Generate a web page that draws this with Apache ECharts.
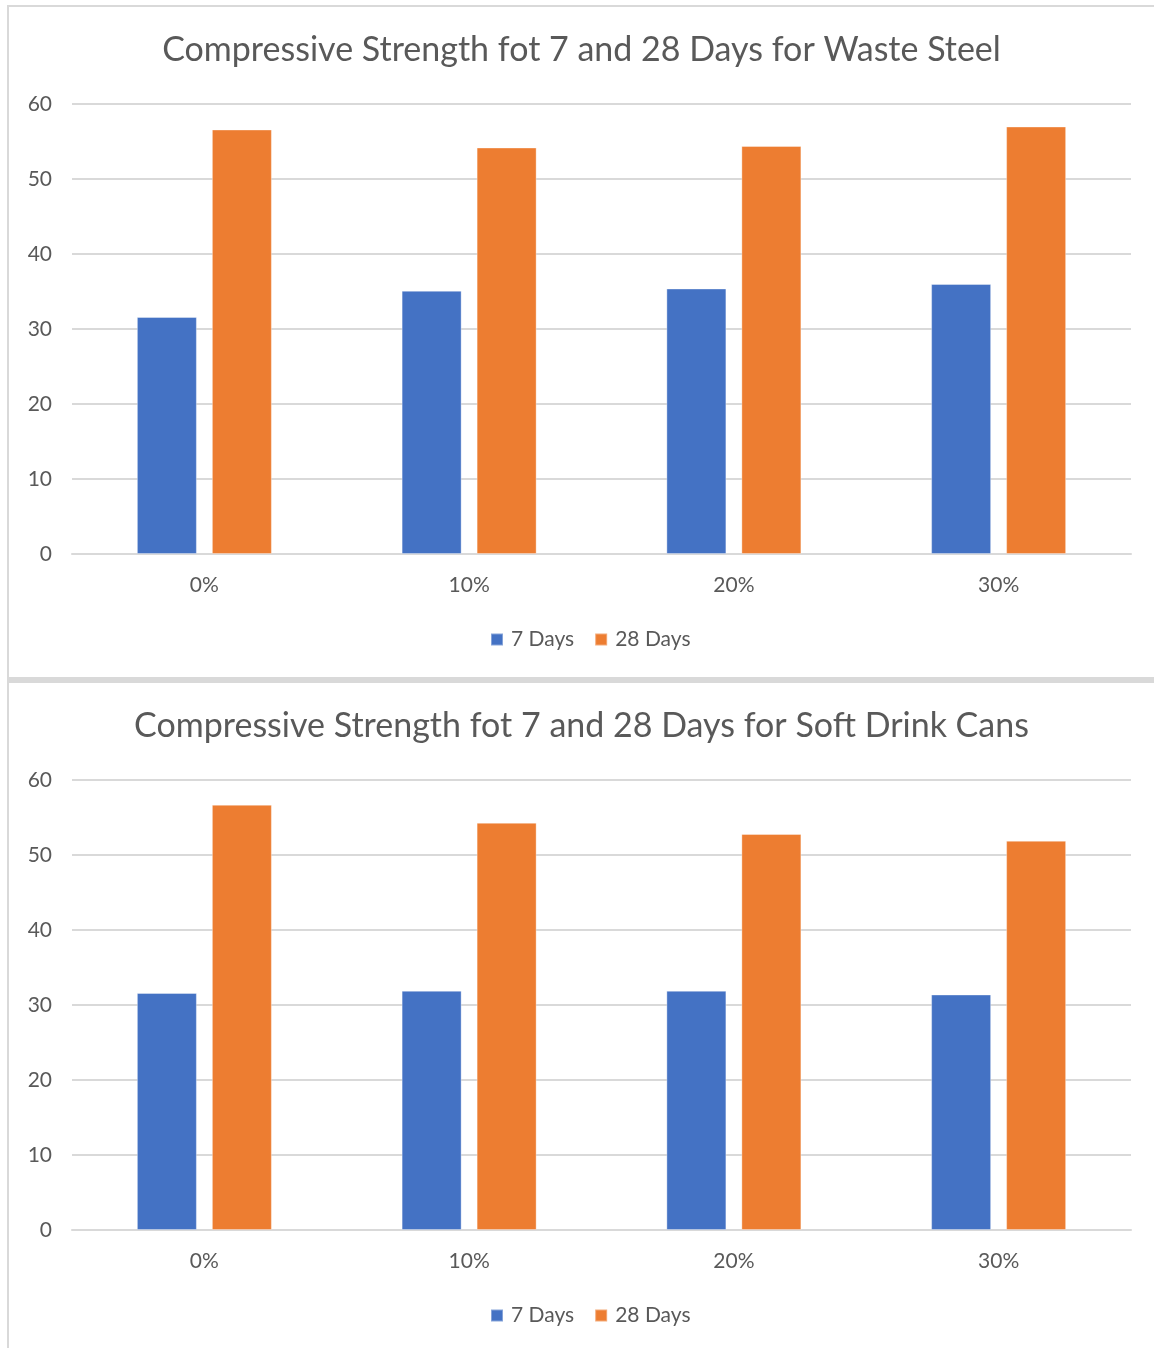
<!DOCTYPE html>
<html>
<head>
<meta charset="utf-8">
<script src="https://cdn.jsdelivr.net/npm/echarts@6/dist/echarts.min.js"></script>
<style>
  html, body { margin: 0; padding: 0; background: #fff; }
  body { width: 1154px; height: 1348px; position: relative; overflow: hidden; }
  .rule { position: absolute; background: #d9d9d9; }
  .chart { position: absolute; background: #fff; }
</style>
</head>
<body>
<div class="rule" style="left:7px;top:5px;width:1147px;height:2px;"></div>
<div class="rule" style="left:7px;top:5px;width:2px;height:1343px;"></div>
<div class="rule" style="left:7px;top:677px;width:1147px;height:6px;"></div>
<div id="steel" class="chart" style="left:9px;top:7px;width:1145px;height:670px;"></div>
<div id="cans" class="chart" style="left:9px;top:683px;width:1145px;height:665px;"></div>
<script>
// Replacement percentages on the x axis
const categories = ['0%', '10%', '20%', '30%'];
const seriesNames = ['7 Days', '28 Days'];

// Compressive strength (MPa), waste steel mixes
const steel7 = [31.6, 35.1, 35.4, 36.0];
const steel28 = [56.6, 54.2, 54.4, 57.0];

// Compressive strength (MPa), soft drink can mixes
const cans7 = [31.6, 31.9, 31.9, 31.4];
const cans28 = [56.7, 54.3, 52.8, 51.9];

const titles = [
  'Compressive Strength fot 7 and 28 Days for Waste Steel',
  'Compressive Strength fot 7 and 28 Days for Soft Drink Cans'
];

const colors = ['#4472C4', '#ED7D31'];
const textColor = '#595959';
const gridColor = '#d9d9d9';
const font = 'Lato, "Open Sans", sans-serif';

function buildOption(title, v7, v28) {
  return {
    animation: false,
    color: colors,
    textStyle: { fontFamily: font },
    title: {
      text: title,
      left: 'center',
      top: 21,
      textStyle: { fontFamily: font, fontSize: 34, fontWeight: 'normal', color: textColor }
    },
    legend: {
      data: seriesNames,
      left: 476,
      top: 617,
      itemWidth: 12,
      itemHeight: 12,
      itemGap: 20,
      icon: 'rect',
      textStyle: { fontFamily: font, fontSize: 21, color: textColor, padding: [0, 0, 0, 3] }
    },
    grid: { left: 63, right: 23, top: 97, height: 450, containLabel: false },
    xAxis: {
      type: 'category',
      data: categories,
      axisLine: { show: true, lineStyle: { color: gridColor, width: 2 } },
      axisTick: { show: false },
      axisLabel: { color: textColor, fontSize: 21, margin: 21, fontFamily: font }
    },
    yAxis: {
      type: 'value',
      min: 0,
      max: 60,
      interval: 10,
      axisLine: { show: false },
      axisTick: { show: false },
      axisLabel: { color: textColor, fontSize: 21, margin: 20, fontFamily: font },
      splitLine: { lineStyle: { color: gridColor, width: 2 } }
    },
    series: [
      {
        name: seriesNames[0],
        type: 'bar',
        data: v7,
        barWidth: 60,
        barGap: '25%',
        itemStyle: { color: colors[0], borderColor: 'rgba(255,255,255,0.35)', borderWidth: 1 }
      },
      {
        name: seriesNames[1],
        type: 'bar',
        data: v28,
        barWidth: 60,
        barGap: '25%',
        itemStyle: { color: colors[1], borderColor: 'rgba(255,255,255,0.35)', borderWidth: 1 }
      }
    ]
  };
}

echarts.init(document.getElementById('steel'), null, { renderer: 'canvas' })
  .setOption(buildOption(titles[0], steel7, steel28));
echarts.init(document.getElementById('cans'), null, { renderer: 'canvas' })
  .setOption(buildOption(titles[1], cans7, cans28));
</script>
</body>
</html>
